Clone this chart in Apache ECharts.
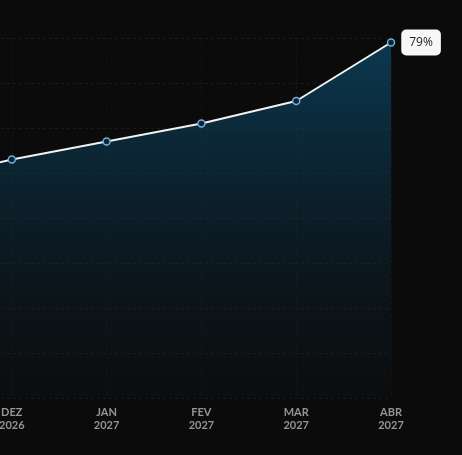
<!DOCTYPE html>
<html><head><meta charset="utf-8">
<script src="https://cdn.jsdelivr.net/npm/echarts@6/dist/echarts.min.js"></script>
<style>html,body{margin:0;padding:0;background:#0b0b0b;}#c{width:462px;height:455px;}</style>
</head><body><div id="c"></div>
<script>
const months = ['NOV\n2026', 'DEZ\n2026', 'JAN\n2027', 'FEV\n2027', 'MAR\n2027', 'ABR\n2027'];
const values = [48, 53, 57, 61, 66, 79];
const yTicks = [0, 10, 20, 30, 40, 50, 60, 70, 80];

const chart = echarts.init(document.getElementById('c'), null, {renderer: 'canvas'});
const last = values.length - 1;
chart.setOption({
  backgroundColor: '#0b0b0b',
  animation: false,
  grid: {left: -83, right: 71, top: 38, bottom: 57, containLabel: false, outerBoundsMode: 'none'},
  xAxis: {
    type: 'category', data: months, boundaryGap: false,
    axisLine: {show: false}, axisTick: {show: false},
    axisLabel: {color: '#959595', fontSize: 11, lineHeight: 13, margin: 8, fontFamily: 'Lato', fontWeight: 'bold'},
    splitLine: {show: true, lineStyle: {color: 'rgba(255,255,255,0.04)', type: [3, 3]}}
  },
  yAxis: {
    type: 'value', min: yTicks[0], max: yTicks[yTicks.length - 1], interval: 10,
    axisLabel: {show: false}, axisLine: {show: false}, axisTick: {show: false},
    splitLine: {show: true, lineStyle: {color: 'rgba(255,255,255,0.06)', type: [3, 3]}}
  },
  series: [{
    type: 'line', data: values.map((v, i) => i === last ? {
      value: v,
      label: {show: true, position: 'right', distance: 6, formatter: '{c}%', color: '#222',
        backgroundColor: '#f7f7f7', borderRadius: 5, padding: [7, 8], fontSize: 12, fontFamily: 'Open Sans'}
    } : v),
    symbol: 'circle', symbolSize: 7, showSymbol: true,
    itemStyle: {color: '#0d2433', borderColor: '#6fb0dc', borderWidth: 1.5},
    lineStyle: {color: '#f2f2f2', width: 2},
    areaStyle: {color: new echarts.graphic.LinearGradient(0, 0, 0, 1, [
      {offset: 0, color: 'rgba(12,76,110,1)'},
      {offset: 0.45, color: 'rgba(12,62,90,0.55)'},
      {offset: 1, color: 'rgba(14,45,60,0.08)'}
    ])}
  }]
});
</script></body></html>
